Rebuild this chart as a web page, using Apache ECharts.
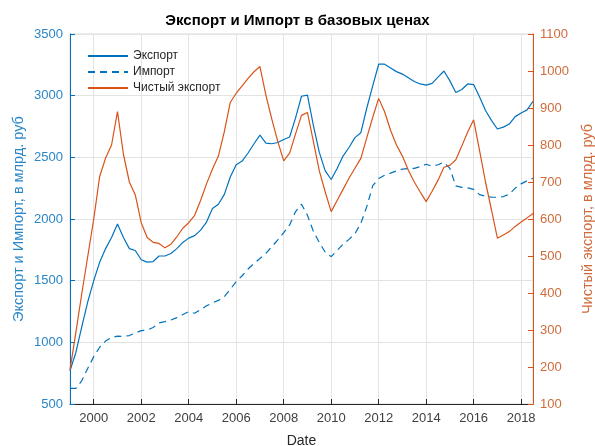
<!DOCTYPE html>
<html>
<head>
<meta charset="utf-8">
<script src="https://cdn.jsdelivr.net/npm/echarts@6/dist/echarts.min.js"></script>
<style>
  html, body { margin: 0; padding: 0; background: #fff; }
  #chart { width: 595px; height: 446px; }
</style>
</head>
<body>
<div id="chart"></div>
<script>
// quarters 1999Q1 .. 2018Q3
var quarters = [];
for (var y = 1999; y <= 2018; y++) {
    for (var q = 1; q <= 4; q++) {
        if (y === 2018 && q > 3) break;
        quarters.push(y + 'Q' + q);
    }
}

var exportData = [
    770, 920, 1130, 1330,
    1500, 1650, 1760, 1850,
    1960, 1850, 1760, 1745,
    1670, 1650, 1655, 1700,
    1700, 1720, 1760, 1810,
    1845, 1865, 1910, 1975,
    2085, 2120, 2200, 2340,
    2440, 2470, 2535, 2610,
    2680, 2615, 2610, 2620,
    2645, 2665, 2820, 2995,
    3005, 2760, 2540, 2390,
    2320, 2410, 2510, 2580,
    2660, 2700, 2900, 3080,
    3255, 3255, 3225, 3195,
    3175, 3145, 3115, 3095,
    3085, 3100, 3150, 3200,
    3120, 3025, 3050, 3095,
    3090, 2990, 2880, 2800,
    2730, 2745, 2770, 2830,
    2860, 2885, 2955
];

var importData = [
    627, 627, 690, 790,
    884, 960, 1010, 1040,
    1050, 1048, 1055, 1075,
    1095, 1100, 1120, 1158,
    1168, 1181, 1200, 1225,
    1248, 1236, 1265, 1296,
    1320, 1340, 1370, 1430,
    1492, 1540, 1595, 1640,
    1680, 1722, 1775, 1830,
    1890, 1952, 2060, 2120,
    2030, 1900, 1810, 1730,
    1695, 1745, 1795, 1835,
    1880, 1965, 2100, 2270,
    2328, 2355, 2372, 2390,
    2404, 2410, 2411, 2425,
    2444, 2428, 2440, 2460,
    2410, 2268, 2257, 2252,
    2240, 2198, 2184, 2178,
    2176, 2182, 2200, 2250,
    2285, 2310, 2330
];

var netExportData = [
    192, 295, 400, 500,
    600, 715, 765, 800,
    890, 775, 700, 665,
    590, 550, 537, 534,
    522, 532, 552, 575,
    590, 610, 650, 695,
    735, 770, 836, 915,
    940, 960, 980, 998,
    1012, 935, 870, 810,
    757, 778, 830, 880,
    888, 810, 730, 673,
    620, 650, 680, 710,
    737, 764, 820, 875,
    926, 890, 840, 800,
    770, 732, 700, 673,
    647, 675, 705, 740,
    745, 760, 797, 835,
    868, 785, 700, 625,
    548, 557, 566, 580,
    592, 603, 615
];

var blue = '#0072BD';
var orange = '#D95319';
var font = '"Liberation Sans", Arial, sans-serif';

function evenYear(index, value) {
    return value.slice(4) === 'Q1' && parseInt(value, 10) % 2 === 0;
}

function plain(v) {
    return String(v);
}

var chart = echarts.init(document.getElementById('chart'));

var option = {
    animation: false,
    textStyle: { fontFamily: font },
    title: {
        text: 'Экспорт и Импорт в базовых ценах',
        left: 'center',
        top: 8,
        textStyle: { fontSize: 15, fontWeight: 'bold', color: '#000', fontFamily: font }
    },
    legend: {
        orient: 'vertical',
        left: 87,
        top: 50,
        padding: 0,
        itemWidth: 40,
        itemHeight: 14,
        itemGap: 4,
        itemStyle: { opacity: 0 },
        textStyle: { fontSize: 12, color: '#262626', fontFamily: font },
        data: ['Экспорт', 'Импорт', 'Чистый экспорт']
    },
    grid: {
        left: 70,
        right: 62,
        top: 34,
        bottom: 42,
        outerBoundsMode: 'none',
        containLabel: false,
        show: true,
        borderColor: '#d9d9d9',
        borderWidth: 1
    },
    xAxis: {
        type: 'category',
        data: quarters,
        boundaryGap: false,
        name: 'Date',
        nameLocation: 'middle',
        nameGap: 30,
        nameTextStyle: { fontSize: 14, color: '#262626' },
        axisLine: { lineStyle: { color: '#262626' } },
        axisTick: { inside: true, length: 5, interval: evenYear, lineStyle: { color: '#262626' } },
        axisLabel: {
            interval: evenYear,
            margin: 8,
            fontSize: 13,
            color: '#404040',
            formatter: function (v) { return v.slice(0, 4); }
        },
        splitLine: { show: true, interval: evenYear, lineStyle: { color: '#e3e3e3' } }
    },
    yAxis: [{
        type: 'value',
        min: 500,
        max: 3500,
        interval: 500,
        name: 'Экспорт и Импорт, в млрд. руб',
        nameLocation: 'middle',
        nameGap: 44,
        nameMoveOverlap: false,
        nameTextStyle: { fontSize: 14.5, color: '#2a86c6' },
        axisLine: { show: true, lineStyle: { color: blue } },
        axisTick: { show: true, inside: true, length: 5 },
        axisLabel: { fontSize: 13, margin: 7, color: '#2a86c6', formatter: plain },
        splitLine: { show: true, lineStyle: { color: '#e3e3e3' } }
    }, {
        type: 'value',
        min: 100,
        max: 1100,
        interval: 100,
        position: 'right',
        name: 'Чистый экспорт, в млрд. руб',
        nameLocation: 'middle',
        nameGap: 47,
        nameTextStyle: { fontSize: 14.5, color: '#d06a3a' },
        axisLine: { show: true, lineStyle: { color: orange } },
        axisTick: { show: true, inside: true, length: 5 },
        axisLabel: { fontSize: 13, margin: 7, color: '#d06a3a', formatter: plain },
        splitLine: { show: false }
    }],
    series: [{
        name: 'Экспорт',
        type: 'line',
        yAxisIndex: 0,
        symbol: 'none',
        data: exportData,
        itemStyle: { color: blue },
        lineStyle: { color: blue, width: 1.2 }
    }, {
        name: 'Импорт',
        type: 'line',
        yAxisIndex: 0,
        symbol: 'none',
        data: importData,
        itemStyle: { color: blue },
        lineStyle: { color: blue, width: 1.2, type: [7, 5] }
    }, {
        name: 'Чистый экспорт',
        type: 'line',
        yAxisIndex: 1,
        symbol: 'none',
        data: netExportData,
        itemStyle: { color: orange },
        lineStyle: { color: orange, width: 1.2 }
    }]
};

chart.setOption(option);
</script>
</body>
</html>
